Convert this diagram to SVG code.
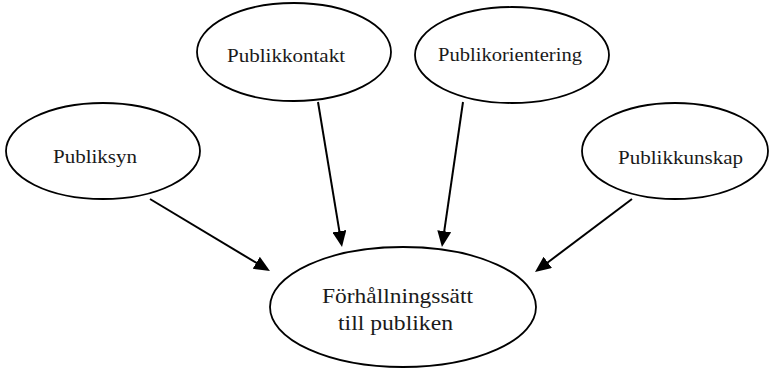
<svg xmlns="http://www.w3.org/2000/svg" width="769" height="368" viewBox="0 0 769 368">
<style>
.node ellipse{fill:#fff;stroke:#000;stroke-width:1.8}
.lbl{font-family:"Liberation Serif","Times New Roman",serif;font-size:19px;fill:#1a1a1a}
.big{font-size:22px}
.edge{stroke:#000;stroke-width:2;fill:none;marker-end:url(#ah)}
</style>
<defs>
<marker id="ah" markerUnits="userSpaceOnUse" markerWidth="16" markerHeight="14" refX="8" refY="7" orient="auto">
<path d="M0,0 L16,7 L0,14 z" fill="#000"/>
</marker>
</defs>
<rect width="769" height="368" fill="#fff"/>
<g id="n-publiksyn" class="node">
<ellipse cx="103" cy="151" rx="97" ry="48"/>
<text class="lbl" x="53" y="163" textLength="84" lengthAdjust="spacingAndGlyphs">Publiksyn</text>
</g>
<g id="n-publikkontakt" class="node">
<ellipse cx="294" cy="52" rx="97" ry="49"/>
<text class="lbl" x="227" y="62" textLength="118" lengthAdjust="spacingAndGlyphs">Publikkontakt</text>
</g>
<g id="n-publikorientering" class="node">
<ellipse cx="512" cy="55" rx="97" ry="48"/>
<text class="lbl" x="438" y="61" textLength="144" lengthAdjust="spacingAndGlyphs">Publikorientering</text>
</g>
<g id="n-publikkunskap" class="node">
<ellipse cx="675" cy="151" rx="93" ry="48"/>
<text class="lbl" x="618" y="164" textLength="125" lengthAdjust="spacingAndGlyphs">Publikkunskap</text>
</g>
<g id="n-forhallningssatt" class="node">
<ellipse cx="403" cy="307" rx="133" ry="60"/>
<text class="lbl big" x="322" y="303" textLength="151" lengthAdjust="spacingAndGlyphs">Förhållningssätt</text>
<text class="lbl big" x="338" y="330" textLength="115" lengthAdjust="spacingAndGlyphs">till publiken</text>
</g>
<g id="connectors">
<line class="edge" x1="150" y1="199" x2="263.1" y2="266.9"/>
<line class="edge" x1="318" y1="102" x2="340.7" y2="239.1"/>
<line class="edge" x1="463" y1="102" x2="443.1" y2="239.1"/>
<line class="edge" x1="632" y1="199" x2="541.4" y2="267.2"/>
</g>
</svg>
